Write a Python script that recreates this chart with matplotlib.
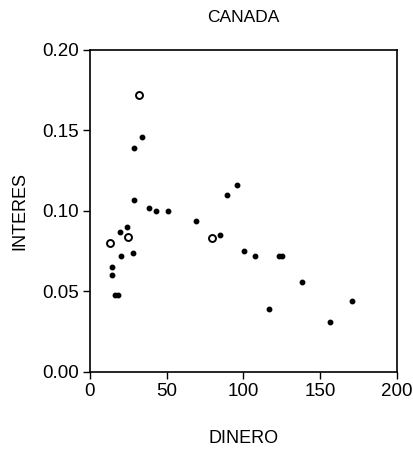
#!/usr/bin/env python3
"""Scatter of interest rate vs money, Canada."""
import matplotlib
matplotlib.use("Agg")
import matplotlib.pyplot as plt

plt.rcParams["font.family"] = ["Liberation Sans", "DejaVu Sans"]

# ── data ─────────────────────────────────────────────────────────────────────
DINERO = [34.2, 29.0, 28.8, 38.5, 42.9, 51.1, 68.8, 89.0, 96.1, 19.9, 24.4,
          20.1, 27.9, 14.3, 14.3, 16.2, 18.2, 84.6, 100.2, 107.8, 123.4, 125.0,
          137.9, 116.9, 156.3, 170.8]
INTERES = [0.146, 0.139, 0.107, 0.102, 0.100, 0.100, 0.094, 0.110, 0.116,
           0.087, 0.090, 0.072, 0.074, 0.065, 0.060, 0.048, 0.048, 0.085,
           0.075, 0.072, 0.072, 0.072, 0.056, 0.039, 0.031, 0.044]
# points drawn as hollow circles
DINERO_OPEN = [31.8, 13.4, 24.9, 79.6]
INTERES_OPEN = [0.172, 0.080, 0.084, 0.083]

X_TICKS = [0, 50, 100, 150, 200]
Y_TICKS = [0.00, 0.05, 0.10, 0.15, 0.20]

fig = plt.figure(figsize=(4.14, 4.54), dpi=100)
ax = fig.add_axes([0.217, 0.181, 0.742, 0.709])

ax.plot(DINERO, INTERES, "o", color="black", markersize=3.2, linestyle="none")
ax.plot(DINERO_OPEN, INTERES_OPEN, "o", markerfacecolor="white",
        markeredgecolor="black", markeredgewidth=1.4, markersize=5,
        linestyle="none")

ax.set_xlim(0, 200)
ax.set_ylim(0, 0.20)
ax.set_xticks(X_TICKS)
ax.set_yticks(Y_TICKS)
ax.set_yticklabels([f"{v:.2f}" for v in Y_TICKS])
ax.tick_params(direction="out", length=5, width=1, labelsize=13.5, pad=3)
for sp in ax.spines.values():
    sp.set_linewidth(1.2)

ax.set_title("CANADA", fontsize=12.5, pad=20)
ax.set_xlabel("DINERO", fontsize=13, labelpad=22)
ax.set_ylabel("INTERES", fontsize=13, labelpad=10)

fig.savefig("out.png", dpi=100)
